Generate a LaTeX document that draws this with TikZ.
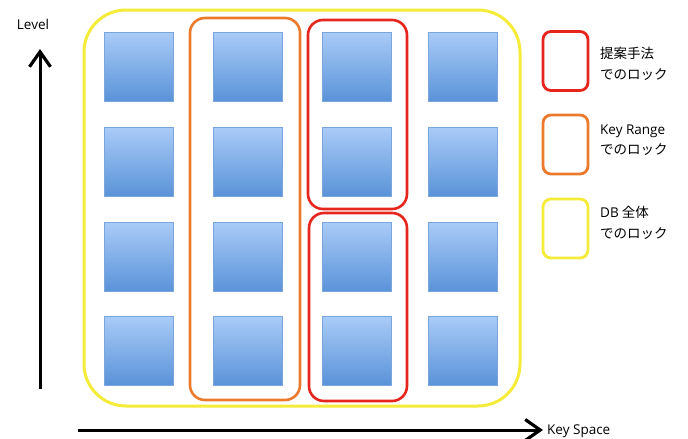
\documentclass[tikz,border=0pt]{standalone}
\usepackage{fontspec}
\setmainfont{Noto Sans CJK JP}
\newfontfamily\latin{Open Sans}
\usetikzlibrary{arrows.meta}
\definecolor{cyel}{HTML}{F4EC38}
\definecolor{corg}{HTML}{EC7A2C}
\definecolor{cred}{HTML}{E6261C}
\definecolor{sqtop}{HTML}{A9CBF7}
\definecolor{sqbot}{HTML}{5A93D9}
\definecolor{sqedge}{HTML}{7AA6DC}
\tikzset{
  sq/.style={draw=sqedge, line width=0.6pt, top color=sqtop, bottom color=sqbot, minimum width=69pt, minimum height=69pt, inner sep=0pt, anchor=north west},
  ybox/.style={draw=cyel, line width=3pt, rounded corners=42pt},
  obox/.style={draw=corg, line width=2.6pt, rounded corners=15pt},
  rbox/.style={draw=cred, line width=2.6pt, rounded corners=15pt},
  lbox/.style={line width=2.8pt, rounded corners=8pt, minimum width=45pt, minimum height=59pt, inner sep=0pt},
  lab/.style={font=\fontsize{13.5}{20.5}\selectfont, align=left, anchor=west, inner sep=0pt},
  axis/.style={line width=3pt, -{Straight Barb[length=15pt,width=21pt,line width=3.2pt]}},
}
\begin{document}
\begin{tikzpicture}[x=1pt,y=-1pt]
\useasboundingbox[fill=white] (0,0) rectangle (688,439);
% squares
\foreach \c/\x in {1/104,2/213,3/322,4/428}{
  \foreach \r/\y in {1/32,2/127,3/222,4/316}{
    \node[sq] (s\c\r) at (\x,\y) {};
  }
}
% group boxes
\draw[ybox] (84,10) rectangle (520,406);
\draw[obox] (190,18) rectangle (300,400);
\draw[rbox] (308,20) rectangle (407,209);
\draw[rbox] (309,213) rectangle (407,401);
% legend
\node[lbox, draw=cred] (lr) at (565.5,61) {};
\node[lbox, draw=corg] (lo) at (565.5,144.5) {};
\node[lbox, draw=cyel] (ly) at (565.5,228.5) {};
\node[lab] (tr) at (600,64) {提案手法\\でのロック};
\node[lab] (to) at (600,140) {{\latin Key Range}\\でのロック};
\node[lab] (ty) at (600,223) {{\latin DB} 全体\\でのロック};
% axes
\coordinate (lv0) at (40,389);
\coordinate (lv1) at (40,49);
\draw[axis] (lv0) -- (lv1);
\node[font=\latin\fontsize{13.5}{15}\selectfont, inner sep=0pt] (lvl) at (33,24) {Level};
\coordinate (ks0) at (78,430);
\coordinate (ks1) at (543,430);
\draw[axis] (ks0) -- (ks1);
\node[font=\latin\fontsize{13.5}{15}\selectfont, inner sep=0pt, anchor=west] (ksl) at (547,431) {Key Space};
\end{tikzpicture}
\end{document}
